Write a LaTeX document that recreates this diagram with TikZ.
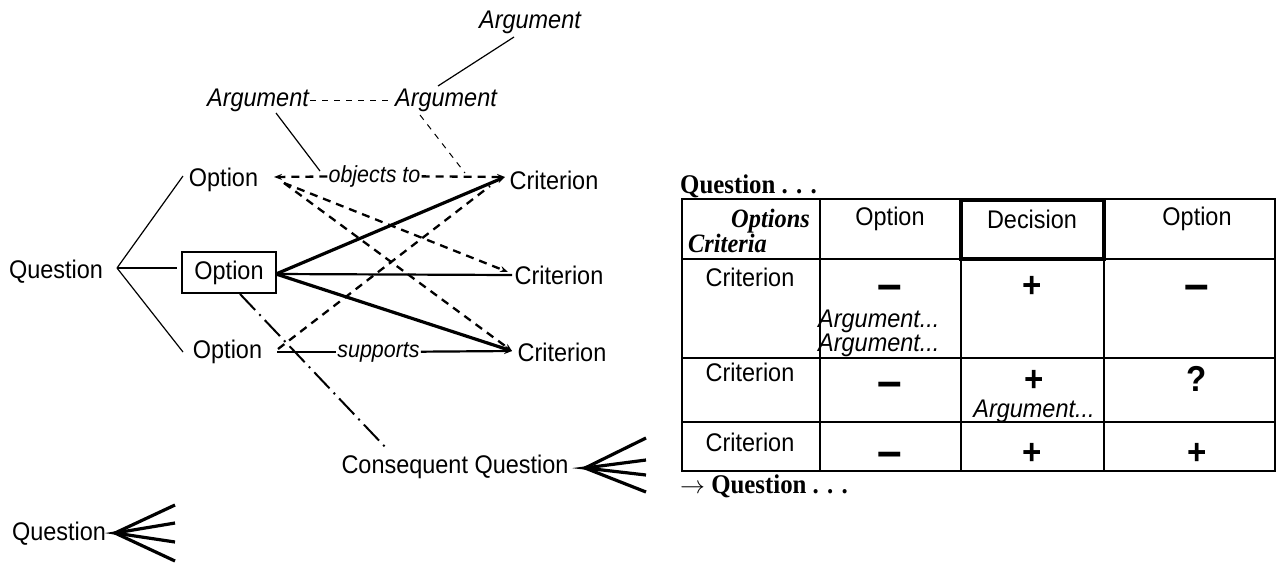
\documentclass[tikz,border=0pt]{standalone}
\usepackage{fontspec}
\setmainfont{Liberation Sans}[FakeStretch=0.92]
\newfontfamily\tms{Liberation Serif}[FakeStretch=0.92]
\usetikzlibrary{arrows.meta,calc}
\tikzset{
  lbl/.style={inner sep=1pt, font=\fontsize{25.5}{28}\selectfont},
  ilbl/.style={inner sep=1pt, font=\fontsize{25.5}{28}\selectfont\itshape},
  slbl/.style={inner sep=1pt, font=\fontsize{23.3}{26}\selectfont\itshape, fill=white},
  thinl/.style={line width=1.2pt},
  thickl/.style={line width=3.2pt},
  midl/.style={line width=2.2pt},
  dashl/.style={line width=2.3pt, dash pattern=on 8pt off 6pt},
  tdash/.style={line width=1pt, dash pattern=on 6pt off 6pt},
  ddot/.style={line width=2pt, dash pattern=on 22pt off 6pt on 2pt off 6pt},
  tip/.style={-{Stealth[length=8pt,width=6pt]}},
  fanl/.style={line width=3.2pt},
  tline/.style={line width=1.8pt},
  sign/.style={inner sep=0pt, font=\fontsize{36}{38}\selectfont\bfseries},
  msign/.style={inner sep=0pt, font=\fontsize{48}{50}\selectfont\bfseries},
  tt/.style={inner sep=0pt, font=\fontsize{25.5}{28}\selectfont},
  ta/.style={inner sep=0pt, font=\fontsize{25.5}{21}\selectfont\itshape},
  tb/.style={inner sep=0pt, font=\fontsize{27}{29}\selectfont\tms\bfseries},
  tbi/.style={inner sep=0pt, font=\fontsize{26.5}{29}\selectfont\tms\bfseries\itshape}
}
\begin{document}
\begin{tikzpicture}[x=1pt,y=-1pt]
\useasboundingbox (0,0) rectangle (1276,563);
% ---------- left graph ----------
\node[lbl] (q) at (56,272) {Question};
\node[lbl] (o1) at (223.5,180) {Option};
\node[lbl, draw, line width=2.2pt, inner sep=0pt, minimum width=94pt, minimum height=41pt] (o2) at (229,272.5) {Option};
\node[lbl] (o3) at (227.5,352) {Option};
\node[lbl] (c1) at (554,180) {Criterion};
\node[lbl] (c2) at (559,275) {Criterion};
\node[lbl] (c3) at (562,352) {Criterion};
\node[ilbl] (a1) at (530,22) {Argument};
\node[ilbl] (a2) at (258,100) {Argument};
\node[ilbl] (a3) at (446,100) {Argument};
\node[lbl] (cq) at (455,467) {Consequent Question};
\node[lbl] (q2) at (59,534) {Question};

\coordinate (qj) at (117,268);
\coordinate (o1e) at (274,177);
\coordinate (o1d) at (284,183);
\coordinate (o3e) at (277,352);
\coordinate (o3d) at (278,349);
\coordinate (o2e) at (276,274);
\coordinate (o2s) at (240,294);
\coordinate (c1w) at (505,177);
\coordinate (c1d) at (490,186);
\coordinate (c2w) at (508,272);
\coordinate (c2m) at (512,275);
\coordinate (c3w) at (512,351);
\coordinate (ddend) at (388,450);

% question fan
\draw[thinl] (qj) -- (183,176);
\draw[thinl] (qj) -- (177,268);
\draw[thinl] (qj) -- (183,352);

% objects-to and supports
\node[slbl] (obj) at (374.5,176) {objects to};
\node[slbl] (sup) at (378.5,352) {supports};
\draw[dashl, tip] (obj) -- (o1e);
\draw[dashl, tip] (obj) -- (c1w);
\draw[midl] (o3e) -- (sup);
\draw[midl, tip] (sup) -- (c3w);

% dashed option -> criterion
\draw[dashl, tip] (o1d) -- (c2w);
\draw[dashl, tip] (o1d) -- (c3w);
\draw[dashl] (o3d) -- (c1d);

% thick option box -> criteria
\draw[thickl, tip] (o2e) -- (c1w);
\draw[midl] (o2e) -- (c2m);
\draw[thickl, tip] (o2e) -- (c3w);

% consequent dash-dot
\draw[ddot] (o2s) -- (ddend);

% arguments
\draw[thinl] (514,37) -- (438,86);
\draw[tdash] (a2.east) -- (a3.west);
\draw[thinl] (276,113) -- (320,171);
\draw[tdash] (420,115) -- (465,173);

% fans
\coordinate (f1) at (585,468);
\draw[fanl] (646,438) -- (f1) -- (646,492);
\draw[fanl] (646,460) -- (f1) -- (646,475);
\coordinate (f2) at (115,533);
\draw[fanl] (175,505) -- (f2) -- (175,561);
\draw[fanl] (175,523) -- (f2) -- (175,542);

% ---------- table ----------
\node[tb, anchor=base west] (tq) at (680,193) {Question . . .};
\draw[tline] (682,199) rectangle (1275,471);
\draw[tline] (820,199) -- (820,471);
\draw[tline] (961,199) -- (961,471);
\draw[tline] (1104,199) -- (1104,471);
\draw[tline] (682,259) -- (1275,259);
\draw[tline] (682,358) -- (1275,358);
\draw[tline] (682,422) -- (1275,422);
\draw[line width=4.5pt] (961,200) rectangle (1104,259);

\node[tbi, anchor=base east] (hopt) at (810,227) {Options};
\node[tbi, anchor=base west] (hcri) at (688,252) {Criteria};
\node[tt] (h1) at (890,219) {Option};
\node[tt] (h2) at (1032,219) {Decision};
\node[tt] (h3) at (1197,219) {Option};

\node[tt] (r1) at (750,277) {Criterion};
\node[msign] (r1a) at (890,293) {–};
\node[sign] (r1b) at (1032,287) {+};
\node[msign] (r1c) at (1197,293) {–};
\node[ta, anchor=west, align=left] (r1d) at (818,333) {Argument...\\Argument...};

\node[tt] (r2) at (750,372) {Criterion};
\node[msign] (r2a) at (890,390) {–};
\node[ta, align=center] (r2b) at (1034,397) {{\fontsize{36}{30}\selectfont\bfseries\upshape +}\\[5pt]Argument...};
\node[sign] (r2c) at (1197,379) {?};

\node[tt] (r3) at (750,442) {Criterion};
\node[msign] (r3a) at (890,460) {–};
\node[sign] (r3b) at (1032,454) {+};
\node[sign] (r3c) at (1197,454) {+};

\node[tb, anchor=base west] (tq2) at (680,493) {$\rightarrow$ Question . . .};
\end{tikzpicture}
\end{document}
